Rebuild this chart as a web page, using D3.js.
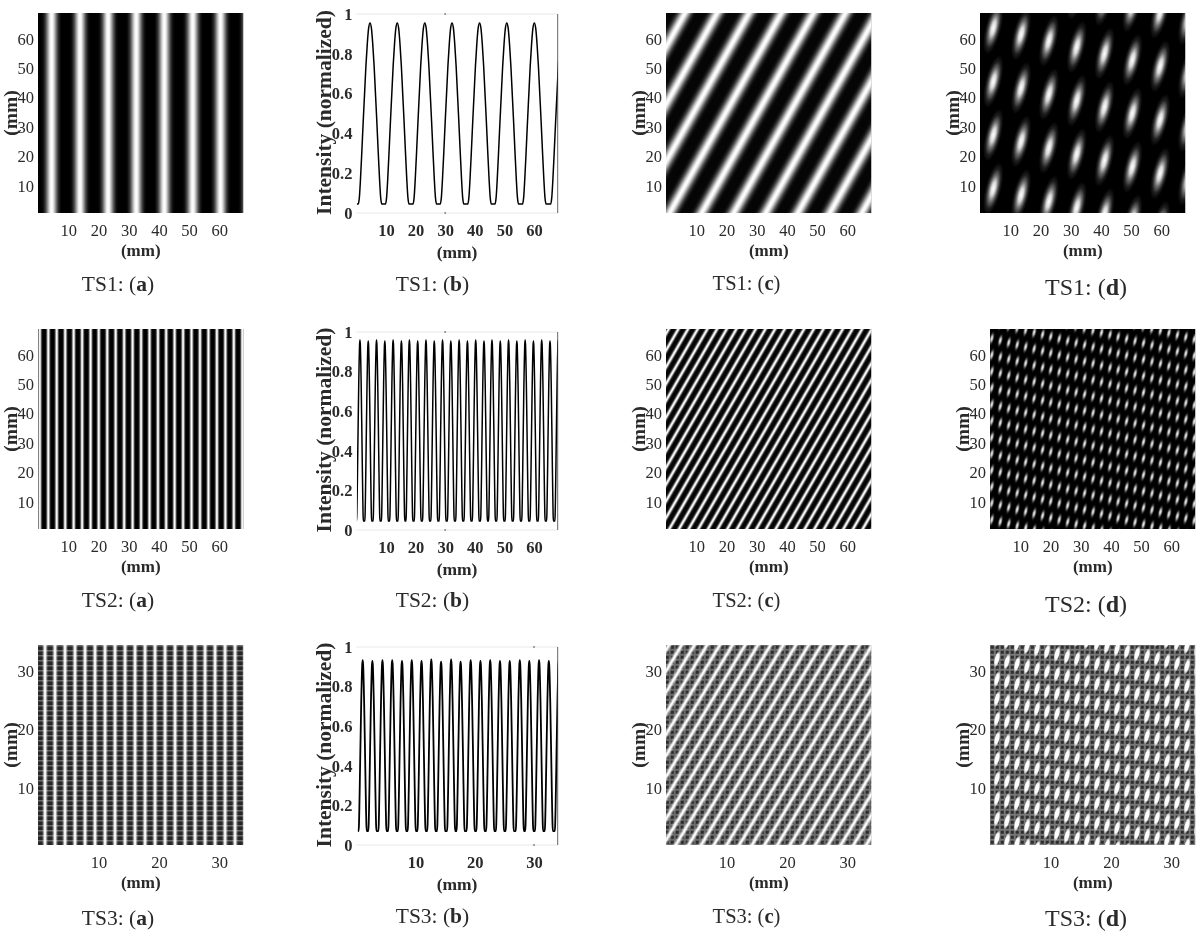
<!DOCTYPE html>
<html>
<head>
<meta charset="utf-8">
<script src="https://cdnjs.cloudflare.com/ajax/libs/d3/7.8.5/d3.min.js"></script>
<style>
html,body{margin:0;padding:0;background:#fff;}
svg{display:block;filter:blur(0.5px);}
text{font-family:"Liberation Serif",serif;fill:#2a2a2a;}
</style>
</head>
<body>
<svg id="chart" width="1201" height="935"></svg>
<script>
// ---------- values (mm, normalized intensity) ----------
const ticksLong = [10,20,30,40,50,60];
const ticksShort = [10,20,30];
const ticksIntensity = [0,0.2,0.4,0.6,0.8,1];
const intensityTick = 30;

// one fringe: distance from the crest (fraction of half a period) and its level
const fringeOffsets = [0,0.1,0.2,0.3,0.4,0.5,0.6,0.7,0.78,0.87,1];
const fringeLevels  = [0.955,0.93,0.85,0.74,0.6,0.46,0.31,0.17,0.08,0.045,0.045];

const ts1Crests = [4.6,13.8,23.1,32.3,41.6,50.8,60.1,69.6];
const ts2Crests = [1.2,4.0,6.8,9.6,12.4,15.2,17.9,20.7,23.5,26.3,29.1,31.9,34.7,37.5,40.3,43.1,45.8,48.6,51.4,54.2,57.0,59.8,62.6,65.4,68.2];
const ts3Crests = [1.06,2.7,4.4,6.05,7.7,9.35,11,12.65,14.3,16,17.6,19.3,20.95,22.6,24.25,25.9,27.6,29.2,30.85,32.5,34.2];
const ts1Peaks = [0.955,0.955,0.955,0.955,0.955,0.955,0.955,0.955];
const ts2Peaks = [0.96,0.955,0.96,0.955,0.96,0.955,0.96,0.955,0.96,0.955,0.96,0.955,0.96,0.955,0.96,0.955,0.96,0.955,0.96,0.955,0.96,0.955,0.96,0.955,0.96];
const ts3Peaks = [0.934,0.93,0.934,0.934,0.93,0.934,0.93,0.938,0.926,0.938,0.926,0.934,0.93,0.934,0.93,0.93,0.934,0.93,0.934,0.93,0.934];
const ts1Trough = 0.045, ts2Trough = 0.045, ts3Trough = 0.07;

// vertical fringes (a)
const ts1Stripes = [4.5,13.9,23.2,32.5,41.8,51.2,60.4,69.7];
const ts2Stripes = [0.6,3.4,6.2,9,11.8,14.6,17.4,20.1,22.9,25.7,28.5,31.3,34.1,36.9,39.7,42.4,45.2,48,50.8,53.6,56.4,59.2,62,64.8,67.6];
const ts3Stripes = [-0.5,1.16,2.81,4.47,6.12,7.78,9.43,11.09,12.74,14.4,16.05,17.71,19.36,21.02,22.67,24.33,25.98,27.64,29.29,30.95,32.6,34.26];

// slanted fringes (c): where each crest meets the top edge
const ts1Slants = [6.3,16.9,27.5,38.2,48.8,59.4,70,80.6,91.2,101.8];
const ts2Slants = [0.9,4.1,7.3,10.5,13.7,16.9,20.1,23.3,26.5,29.7,32.9,36.1,39.3,42.5,45.7,48.9,52.1,55.3,58.5,61.7,64.9,68.1,71.3,74.5,77.7,80.9,84.1,87.3,90.5,93.7,96.9,100.1,103.3,106.5];
const ts3Slants = [0.5,2.6,4.7,6.8,8.9,11,13.1,15.2,17.3,19.4,21.5,23.6,25.7,27.8,29.9,32,34.1,36.2,38.3,40.4,42.5,44.6,46.7,48.8,50.9,53];

// crossed fringes (d): spot columns, spot rows in the first column, fall per column
const ts1SpotX = [4.4,13.6,22.8,32,41.2,50.4,59.6,68.8];
const ts1SpotY = [81.9,63.7,45.5,27.3,9.1];
const ts1SpotFall = 2.17;
const ts2SpotX = [0.6,3.4,6.2,9,11.8,14.6,17.4,20.1,22.9,25.7,28.5,31.3,34.1,36.9,39.7,42.4,45.2,48,50.8,53.6,56.4,59.2,62,64.8,67.6];
const ts2SpotY = [88,82.4,76.8,71.2,65.6,60,54.4,48.8,43.2,37.6,32,26.4,20.8,15.2,9.6,4];
const ts2SpotFall = 0.71;
const ts3SpotX = [-0.5,1.16,2.81,4.47,6.12,7.78,9.43,11.09,12.74,14.4,16.05,17.71,19.36,21.02,22.67,24.33,25.98,27.64,29.29,30.95,32.6,34.26];
const ts3SpotY = [46,42.6,39.2,35.8,32.4,29,25.6,22.2,18.8,15.4,12,8.6,5.2,1.8];
const ts3SpotFall = 0.42;

const captionSeries = ["TS1","TS2","TS3"];
const captionParts = ["a","b","c","d"];
const axisUnit = "(mm)";
const intensityTitle = "Intensity (normalized)";

// ---------- layout ----------
const rowFrames = [{top:13,bottom:213,lineTop:14,lineBottom:213,capY:[291,291,290,295]},
                   {top:329,bottom:529,lineTop:332,lineBottom:530,capY:[607,607,607,612]},
                   {top:645,bottom:845,lineTop:647,lineBottom:845,capY:[925,923,923,926]}];
const colFrames = [{left:[38,38,38],width:205.5,cap:118,capSize:21.5},
                   {left:[356.4,356.4,356.4],width:201.3,cap:432.5,capSize:21.5},
                   {left:[666,666,666],width:205.5,cap:746.5,capSize:20.5},
                   {left:[980,990,990],width:205.5,cap:1086,capSize:24}];
const yLong = [0.8,68.8], yShort = [0.26,34.4];

const svg = d3.select("#chart");
const defs = svg.append("defs");

function stripeGradient(id){
  const side = fringeOffsets.map((f,i)=>({f,l:fringeLevels[i]}));
  const stops = side.slice().reverse().map(d=>({o:(1-d.f)/2,l:d.l}))
      .concat(side.slice(1).map(d=>({o:(1+d.f)/2,l:d.l})));
  const g = defs.append("linearGradient").attr("id",id).attr("x1",0).attr("x2",1).attr("y1",0).attr("y2",0);
  g.selectAll("stop").data(stops).join("stop")
    .attr("offset",d=>d.o)
    .attr("stop-color","#fff")
    .attr("stop-opacity",d=>Math.pow((d.l-0.045)/0.91,2.3));
}
stripeGradient("fringe");

function spotGradient(id,stops){
  const g = defs.append("radialGradient").attr("id",id);
  g.selectAll("stop").data(stops).join("stop")
    .attr("offset",d=>d[0]).attr("stop-color","#fff").attr("stop-opacity",d=>d[1]);
}
spotGradient("spot",[[0,1],[0.25,0.85],[0.5,0.42],[0.75,0.12],[1,0]]);
spotGradient("spotSmall",[[0,0.95],[0.3,0.72],[0.6,0.25],[0.8,0.06],[1,0]]);
spotGradient("spotHard",[[0,1],[0.6,0.97],[0.85,0.4],[1,0]]);

// woven texture of the shortest-period set
function weave(id,bg,dark,size){
  const p = defs.append("pattern").attr("id",id).attr("patternUnits","userSpaceOnUse")
    .attr("width",size).attr("height",size);
  p.append("rect").attr("width",size).attr("height",size).attr("fill",bg);
  p.append("rect").attr("x",0.7).attr("y",0.7).attr("width",size-1.9).attr("height",size-1.9).attr("fill",dark);
}
const rows = defs.append("pattern").attr("id","weaveA").attr("patternUnits","userSpaceOnUse").attr("width",5).attr("height",5);
rows.append("rect").attr("width",5).attr("height",5).attr("fill","#262626");
rows.append("rect").attr("width",5).attr("height",1.5).attr("fill","#6a6a6a");
weave("weaveC","#6c6c6c","#2c2c2c",5);
weave("weaveD","#787878","#2e2e2e",5);

let clipId = 0;
function frame(row,col){
  const r = rowFrames[row], c = colFrames[col];
  const left = c.left[row], top = r.top, w = c.width, h = r.bottom-r.top;
  const g = svg.append("g");
  const id = "clip"+(clipId++);
  defs.append("clipPath").attr("id",id).append("rect").attr("x",left).attr("y",top).attr("width",w).attr("height",h);
  return {g,left,top,w,h,id,bottom:r.bottom};
}
function styleAxisText(sel,size,weight){
  sel.selectAll("text").style("font-size",size+"px").style("font-weight",weight||"normal");
  sel.select(".domain").remove();
  sel.selectAll("line").remove();
}
function mmAxes(f,x,y,xt,yt,row,col){
  f.g.append("g").attr("transform",`translate(0,${f.bottom+9})`)
    .call(d3.axisBottom(x).tickValues(xt).tickSize(0).tickPadding(2)).call(styleAxisText,16.5);
  f.g.append("g").attr("transform",`translate(${f.left-1},0)`)
    .call(d3.axisLeft(y).tickValues(yt).tickSize(0).tickPadding(3)).call(styleAxisText,16.5);
  f.g.append("text").attr("x",f.left+f.w/2).attr("y",f.bottom+43).attr("text-anchor","middle")
    .style("font-size","17px").style("font-weight","bold").text(axisUnit);
  f.g.append("text").attr("transform",`translate(${f.left-21},${f.top+f.h/2}) rotate(-90)`)
    .attr("text-anchor","middle").style("font-size","19.5px").style("font-weight","bold").text(axisUnit);
}
function caption(row,col){
  const c = colFrames[col];
  const t = svg.append("text").attr("x",c.cap).attr("y",rowFrames[row].capY[col]).attr("text-anchor","middle")
    .style("font-size",c.capSize+"px");
  t.append("tspan").text(captionSeries[row]+": (");
  t.append("tspan").style("font-weight","bold").text(captionParts[col]);
  t.append("tspan").text(")");
}
function imageBase(f,fill){
  const body = f.g.append("g").attr("clip-path",`url(#${f.id})`);
  body.append("rect").attr("x",f.left).attr("y",f.top).attr("width",f.w).attr("height",f.h).attr("fill",fill);
  return body;
}

function panelA(row,stripes,domainX,domainY,xt,yt,fill,period){
  const f = frame(row,0);
  const x = d3.scaleLinear().domain(domainX).range([f.left,f.left+f.w]);
  const y = d3.scaleLinear().domain(domainY).range([f.bottom,f.top]);
  const body = imageBase(f,fill);
  body.selectAll("rect.s").data(stripes).join("rect").attr("class","s")
    .attr("x",d=>x(d-period/2)).attr("width",x(period)-x(0))
    .attr("y",f.top).attr("height",f.h).attr("fill","url(#fringe)");
  mmAxes(f,x,y,xt,yt,row,0);
  caption(row,0);
}
function panelB(row,crests,peaks,trough,domainX,xt,stroke){
  const r = rowFrames[row], c = colFrames[1];
  const left = c.left[row];
  const g = svg.append("g");
  const x = d3.scaleLinear().domain(domainX).range([left,left+c.width]);
  const y = d3.scaleLinear().domain([0,1]).range([r.lineBottom,r.lineTop]);
  const half = d3.min(d3.pairs(crests),p=>p[1]-p[0])/2;
  const pts = [];
  crests.forEach((cr,i)=>{
    const lv = l=>trough+(peaks[i]-trough)*(l-0.045)/0.91;
    fringeOffsets.slice().reverse().forEach((o,k)=>{
      pts.push([cr-o*half,lv(fringeLevels[fringeOffsets.length-1-k])]);
    });
    fringeOffsets.slice(1).forEach((o,k)=>{
      pts.push([cr+o*half,lv(fringeLevels[k+1])]);
    });
  });
  const id = "clip"+(clipId++);
  defs.append("clipPath").attr("id",id).append("rect")
    .attr("x",x(domainX[0])+0.5).attr("y",r.lineTop-1).attr("width",c.width-0.5).attr("height",r.lineBottom-r.lineTop+2);
  g.append("line").attr("x1",left).attr("x2",left+c.width).attr("y1",y(1)).attr("y2",y(1)).attr("stroke","#e8e8e8");
  g.append("line").attr("x1",left).attr("x2",left+c.width).attr("y1",y(0)).attr("y2",y(0)).attr("stroke","#e8e8e8");
  g.append("line").attr("x1",left+c.width).attr("x2",left+c.width).attr("y1",y(1)).attr("y2",y(0)).attr("stroke","#555").attr("stroke-width",0.9);
  g.selectAll("circle").data([1,0]).join("circle").attr("cx",x(intensityTick)).attr("cy",d=>y(d)).attr("r",1).attr("fill","#888");
  g.append("path").attr("clip-path",`url(#${id})`)
    .attr("d",d3.line().x(d=>x(d[0])).y(d=>y(d[1])).curve(d3.curveMonotoneX)(pts))
    .attr("fill","none").attr("stroke","#000").attr("stroke-width",stroke).attr("stroke-linejoin","round");
  g.append("g").attr("transform",`translate(0,${r.lineBottom+9})`)
    .call(d3.axisBottom(x).tickValues(xt).tickSize(0).tickPadding(2)).call(styleAxisText,16.5,"bold");
  g.append("g").attr("transform",`translate(${left-1},0)`)
    .call(d3.axisLeft(y).tickValues(ticksIntensity).tickFormat(d3.format("~g")).tickSize(0).tickPadding(3)).call(styleAxisText,16.5,"bold");
  g.append("text").attr("x",left+c.width/2).attr("y",r.lineBottom+45).attr("text-anchor","middle")
    .style("font-size","17.5px").style("font-weight","bold").text(axisUnit);
  g.append("text").attr("transform",`translate(${left-25},${(r.lineTop+r.lineBottom)/2-1}) rotate(-90)`)
    .attr("text-anchor","middle").style("font-size","21.5px").style("font-weight","bold").text(intensityTitle);
  caption(row,1);
}
function panelC(row,slants,domainX,domainY,xt,yt,fill,hPeriod,angle){
  const f = frame(row,2);
  const x = d3.scaleLinear().domain(domainX).range([f.left,f.left+f.w]);
  const y = d3.scaleLinear().domain(domainY).range([f.bottom,f.top]);
  const body = imageBase(f,fill);
  const w = (x(hPeriod)-x(0))*Math.sin(angle*Math.PI/180);
  body.selectAll("rect.s").data(slants).join("rect").attr("class","s")
    .attr("x",-w/2).attr("width",w).attr("y",-20).attr("height",520)
    .attr("transform",d=>`translate(${x(d)},${f.top}) rotate(${90-angle})`)
    .attr("fill","url(#fringe)");
  mmAxes(f,x,y,xt,yt,row,2);
  caption(row,2);
}
function panelD(row,spotX,spotY,fall,domainX,domainY,xt,yt,fill,grad,rx,ry,tilt){
  const f = frame(row,3);
  const x = d3.scaleLinear().domain(domainX).range([f.left,f.left+f.w]);
  const y = d3.scaleLinear().domain(domainY).range([f.bottom,f.top]);
  const body = imageBase(f,fill);
  const spots = d3.cross(spotX.map((v,i)=>({v,i})),spotY,(c,ry0)=>({x:c.v,y:ry0-c.i*fall}));
  body.selectAll("ellipse").data(spots).join("ellipse")
    .attr("rx",rx).attr("ry",ry)
    .attr("transform",d=>`translate(${x(d.x)},${y(d.y)}) rotate(${tilt})`)
    .attr("fill",`url(#${grad})`);
  mmAxes(f,x,y,xt,yt,row,3);
  caption(row,3);
}

panelA(0,ts1Stripes,[0,68],yLong,ticksLong,ticksLong,"#000",9.25);
panelB(0,ts1Crests,ts1Peaks,ts1Trough,[0,68],ticksLong,1.5);
panelC(0,ts1Slants,[0,68],yLong,ticksLong,ticksLong,"#050505",10.6,60.8);
panelD(0,ts1SpotX,ts1SpotY,ts1SpotFall,[0,68],yLong,ticksLong,ticksLong,"#000","spot",8,27,14);

panelA(1,ts2Stripes,[0,68],yLong,ticksLong,ticksLong,"#000",2.78);
panelB(1,ts2Crests,ts2Peaks,ts2Trough,[0,68],ticksLong,1.5);
panelC(1,ts2Slants,[0,68],yLong,ticksLong,ticksLong,"#050505",3.2,60);
panelD(1,ts2SpotX,ts2SpotY,ts2SpotFall,[0,68],yLong,ticksLong,ticksLong,"#000","spotSmall",2.8,8,14);

panelA(2,ts3Stripes,[0,34],yShort,ticksShort,ticksShort,"url(#weaveA)",1.655);
panelB(2,ts3Crests,ts3Peaks,ts3Trough,[0,34],ticksShort,1.8);
panelC(2,ts3Slants,[0,34],yShort,ticksShort,ticksShort,"url(#weaveC)",2.1,59);
panelD(2,ts3SpotX,ts3SpotY,ts3SpotFall,[0,34],yShort,ticksShort,ticksShort,"url(#weaveD)","spotHard",2.8,8.5,14);
</script>
</body>
</html>
